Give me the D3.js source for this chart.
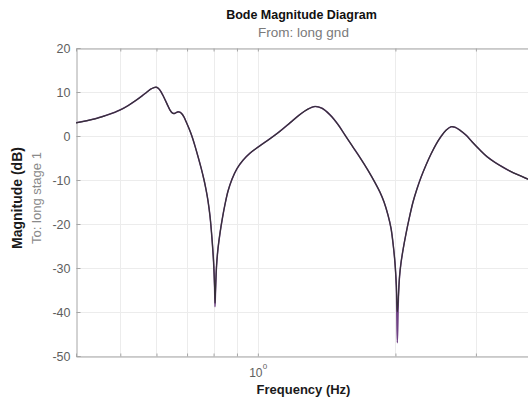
<!DOCTYPE html>
<html>
<head>
<meta charset="utf-8">
<script src="https://cdn.jsdelivr.net/npm/d3@7/dist/d3.min.js"></script>
<style>
  html, body { margin: 0; padding: 0; background: #fff; }
  svg { display: block; }
  text { font-family: "Liberation Sans", Arial, Helvetica, sans-serif; }
</style>
</head>
<body>
<svg id="chart" width="528" height="399"></svg>
<script>
// Frequency samples (Hz) shared by both responses
const freqHz = [
  0.4000, 0.4186, 0.4402, 0.4629, 0.4868, 0.4993, 0.5198, 0.5412, 0.5578, 0.5720,
  0.5837, 0.5926, 0.5986, 0.6046, 0.6108, 0.6201, 0.6327, 0.6423, 0.6488, 0.6554,
  0.6621, 0.6688, 0.6756, 0.6824, 0.6893, 0.6963, 0.7069, 0.7177, 0.7286, 0.7398,
  0.7510, 0.7625, 0.7702, 0.7780, 0.7859, 0.7939, 0.7999, 0.8039, 0.8059, 0.8080,
  0.8121, 0.8182, 0.8265, 0.8370, 0.8476, 0.8605, 0.8780, 0.9004, 0.9281, 0.9614,
  1.0111, 1.0633, 1.1182, 1.1760, 1.2368, 1.2812, 1.3339, 1.3817, 1.4386, 1.4978,
  1.5515, 1.6072, 1.6733, 1.7421, 1.8046, 1.8507, 1.8884, 1.9268, 1.9562, 1.9790,
  1.9960, 2.0091, 2.0192, 2.0315, 2.0417, 2.0572, 2.0812, 2.1097, 2.1418, 2.1854,
  2.2299, 2.2753, 2.3334, 2.3929, 2.4540, 2.5166, 2.5808, 2.6467, 2.7006, 2.7695,
  2.8544, 2.9420, 3.0630, 3.1730, 3.3035, 3.4393, 3.5807, 3.7468, 3.9009, 4.0000
];

// Magnitude (dB), first model
const magModelA = [
   3.0,   3.4,   3.9,   4.6,   5.4,   5.9,   6.9,   8.1,   9.1,  10.0,
  10.7,  11.0,  11.1,  10.9,  10.4,   9.2,   7.3,   5.9,   5.3,   5.1,
   5.3,   5.5,   5.4,   5.0,   4.3,   3.3,   1.7,  -0.1,  -2.3,  -4.7,
  -7.2, -10.0, -12.2, -14.8, -18.3, -23.5, -28.5, -34.0, -38.0, -35.0,
 -29.5, -25.5, -22.0, -18.5, -15.5, -12.5,  -9.8,  -7.4,  -5.5,  -3.9,
  -2.2,  -0.6,   1.1,   3.0,   4.9,   6.0,   6.7,   6.3,   4.8,   2.6,
   0.2,  -2.2,  -4.9,  -7.8, -10.6, -12.8, -15.0, -18.0, -21.0, -25.0,
 -29.0, -34.0, -40.0, -36.0, -32.0, -28.8, -25.5, -22.2, -18.9, -15.0,
 -12.0,  -9.4,  -6.6,  -4.1,  -1.9,  -0.1,   1.3,   2.1,   2.0,   1.3,
   0.2,  -1.3,  -3.2,  -4.7,  -6.0,  -7.1,  -8.1,  -9.0,  -9.8, -10.2
];

// Magnitude (dB), second model (deeper notches)
const magModelB = [
   3.0,   3.4,   3.9,   4.6,   5.4,   5.9,   6.9,   8.1,   9.1,  10.0,
  10.7,  11.0,  11.1,  10.9,  10.4,   9.2,   7.3,   5.9,   5.3,   5.1,
   5.3,   5.5,   5.4,   5.0,   4.3,   3.3,   1.7,  -0.1,  -2.3,  -4.7,
  -7.2, -10.0, -12.2, -14.8, -18.3, -23.5, -28.5, -34.0, -38.8, -35.0,
 -29.5, -25.5, -22.0, -18.5, -15.5, -12.5,  -9.8,  -7.4,  -5.5,  -3.9,
  -2.2,  -0.6,   1.1,   3.0,   4.9,   6.0,   6.7,   6.3,   4.8,   2.6,
   0.2,  -2.2,  -4.9,  -7.8, -10.6, -12.8, -15.0, -18.0, -21.0, -25.0,
 -29.0, -34.0, -47.0, -36.0, -32.0, -28.8, -25.5, -22.2, -18.9, -15.0,
 -12.0,  -9.4,  -6.6,  -4.1,  -1.9,  -0.1,   1.3,   2.1,   2.0,   1.3,
   0.2,  -1.3,  -3.2,  -4.7,  -6.0,  -7.1,  -8.1,  -9.0,  -9.8, -10.2
];

const yTickValues = [20, 10, 0, -10, -20, -30, -40, -50];
const xGridValues = [0.5, 0.6, 0.7, 0.8, 0.9, 1, 2, 3, 4];
const xDecadeLabels = [{ f: 1, base: "10", exp: "0" }];

const titleText = "Bode Magnitude Diagram";
const inputText = "From: long gnd";
const outputText = "To: long stage 1";
const xLabelText = "Frequency (Hz)";
const yLabelText = "Magnitude (dB)";

const svg = d3.select("#chart");
const plot = { left: 76, right: 533, top: 48, bottom: 356 };

const x = d3.scaleLog().domain([0.4, 4]).range([plot.left, plot.right]);
const y = d3.scaleLinear().domain([-50, 20]).range([plot.bottom, plot.top]);

svg.append("defs").append("clipPath").attr("id", "plotClip")
  .append("rect")
  .attr("x", plot.left).attr("y", plot.top)
  .attr("width", plot.right - plot.left).attr("height", plot.bottom - plot.top);

// grid
const grid = svg.append("g").attr("stroke", "#ececec").attr("stroke-width", 1);
grid.selectAll("line.v").data(xGridValues).join("line")
  .attr("x1", d => Math.round(x(d)) + 0.5).attr("x2", d => Math.round(x(d)) + 0.5)
  .attr("y1", plot.top).attr("y2", plot.bottom);
grid.selectAll("line.h").data(yTickValues).join("line")
  .attr("y1", d => Math.round(y(d)) + 0.5).attr("y2", d => Math.round(y(d)) + 0.5)
  .attr("x1", plot.left).attr("x2", plot.right);

// axes with inward ticks
const axisColor = "#a6a6a6";
const yAxis = d3.axisLeft(y).tickValues(yTickValues).tickSize(-4).tickPadding(6)
  .tickFormat(d => String(d));
const gy = svg.append("g").attr("transform", `translate(${plot.left + 0.5},0)`).call(yAxis);
gy.select(".domain").attr("stroke", axisColor);
gy.selectAll(".tick line").attr("stroke", axisColor);
gy.selectAll(".tick text").attr("fill", "#5e5e5e").attr("font-size", 12.5)
  .attr("font-family", "'Liberation Sans', Arial, sans-serif");

const xAxisBottom = d3.axisBottom(x).tickValues(xGridValues).tickSize(-3).tickFormat("");
const gx = svg.append("g").attr("transform", `translate(0,${plot.bottom + 0.5})`).call(xAxisBottom);
gx.select(".domain").attr("stroke", axisColor);
gx.selectAll(".tick line").attr("stroke", axisColor);

const xAxisTop = d3.axisTop(x).tickValues(xGridValues).tickSize(-3).tickFormat("");
const gxt = svg.append("g").attr("transform", `translate(0,${plot.top + 0.5})`).call(xAxisTop);
gxt.select(".domain").attr("stroke", axisColor);
gxt.selectAll(".tick line").attr("stroke", axisColor);

// decade labels 10^n
xDecadeLabels.forEach(l => {
  svg.append("text")
    .attr("x", x(l.f) - 2).attr("y", 377)
    .attr("text-anchor", "middle").attr("fill", "#5e5e5e").attr("font-size", 12)
    .text(l.base);
  svg.append("text")
    .attr("x", x(l.f) + 5).attr("y", 369)
    .attr("fill", "#5e5e5e").attr("font-size", 8)
    .text(l.exp);
});

// response curves
const line = d3.line()
  .x((d, i) => x(freqHz[i]))
  .y(d => y(d))
  .curve(d3.curveCatmullRom.alpha(0.5));

const curves = svg.append("g").attr("clip-path", "url(#plotClip)").attr("fill", "none")
  .attr("stroke-linejoin", "round");
curves.append("path").datum(magModelB)
  .attr("d", line).attr("stroke", "#6e4183").attr("stroke-width", 1.5);
curves.append("path").datum(magModelA)
  .attr("d", line).attr("stroke", "#353038").attr("stroke-width", 1.2);

// titles and labels
const midX = (plot.left + plot.right) / 2;
svg.append("text").attr("x", midX - 3).attr("y", 19)
  .attr("text-anchor", "middle").attr("font-weight", "bold").attr("font-size", 12.5)
  .attr("fill", "#111").text(titleText);
svg.append("text").attr("x", midX - 1).attr("y", 37)
  .attr("text-anchor", "middle").attr("font-size", 13.5)
  .attr("fill", "#7a7a7a").text(inputText);
svg.append("text").attr("x", midX - 1).attr("y", 394)
  .attr("text-anchor", "middle").attr("font-weight", "bold").attr("font-size", 13)
  .attr("fill", "#1a1a1a").text(xLabelText);

const midY = (plot.top + plot.bottom) / 2;
svg.append("text")
  .attr("transform", `translate(22,${midY - 4}) rotate(-90)`)
  .attr("text-anchor", "middle").attr("font-weight", "bold").attr("font-size", 14)
  .attr("fill", "#1a1a1a").text(yLabelText);
svg.append("text")
  .attr("transform", `translate(41,${midY - 4}) rotate(-90)`)
  .attr("text-anchor", "middle").attr("font-size", 13)
  .attr("fill", "#8a8a8a").text(outputText);
</script>
</body>
</html>
